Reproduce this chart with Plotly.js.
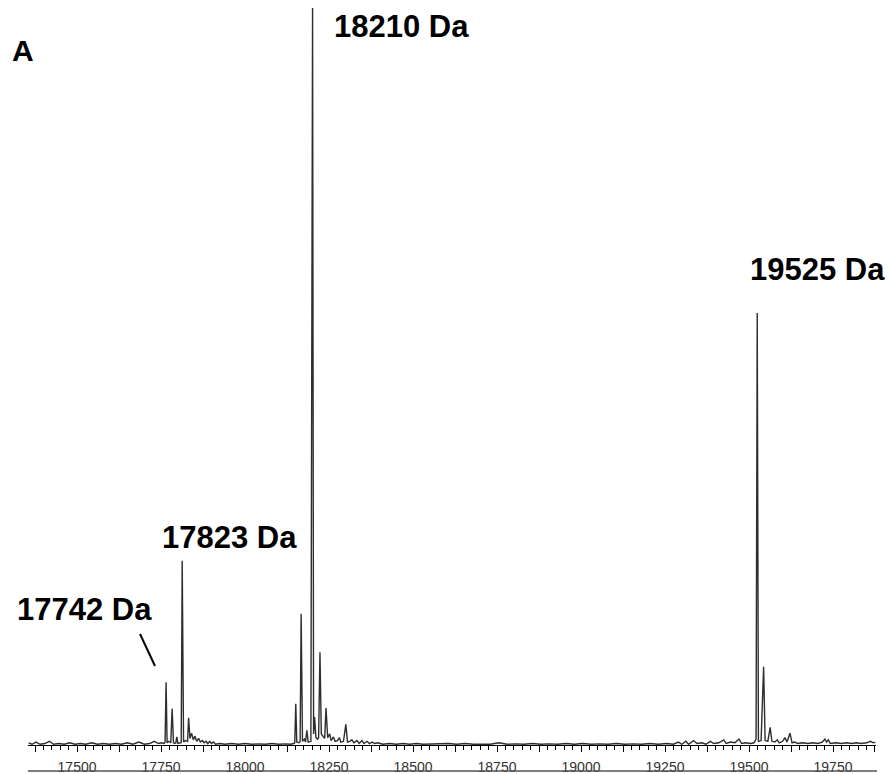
<!DOCTYPE html>
<html>
<head>
<meta charset="utf-8">
<script src="https://cdn.plot.ly/plotly-3.0.1.min.js"></script>
<style>html,body{margin:0;padding:0;background:#fff;}#chart{width:892px;height:774px;}</style>
</head>
<body>
<div id="chart"></div>
<script>
// Deconvoluted mass spectrum (mass in Da, relative intensity %)
const massDa = [
  17356,17366,17378,17390,17404,17418,17430,17446,17462,17478,17494,17510,17526,17544,17560,17578,17596,17614,17632,17650,17666,17684,17700,17716,17730,17742,17752,17759,
  17762,17765,17768,17773,17779,17783,17787,17791,17794,17797,17800,17806,17810,17813,17817,17822,17829,17832,17836,17841,17846,17851,17856,17862,17867,17873,17878,17884,17889,17895,17900,17906,17912,17925,17940,17960,17980,18000,18020,18040,18060,18080,18100,18120,18135,18145,
  18148,18151,18154,18160,18164,18167,18171,18177,18180,18184,18188,18196,18201,18204,18207,18211,18216,18219,18223,18227,18233,18237,18241,18246,18252,18256,18263,18268,18275,18281,18285,18293,18300,18305,18312,18318,18324,18333,18340,18348,18354,18363,18370,18378,18386,18395,18410,18430,
  18450,18470,18490,18510,18530,18555,18580,18605,18630,18655,18680,18705,18730,18755,18780,18805,18830,18855,18880,18905,18930,18955,18980,19005,19030,19055,19080,19105,19130,19155,19180,19205,19230,19255,19275,19290,19300,19312,19320,19335,19345,19360,19372,19385,19395,19410,19425,19432,19445,19458,19470,19478,19490,19505,19515,19521,
  19524.5,19528,19536,19543.5,19548,19556,19563,19568,19577,19584,19590,19600,19607,19613,19622,19628,19636,19645,19660,19675,19690,19705,19718,19726,19731,19736,19742,19758,19775,19790,19805,19820,19835,19850,19862,19870,19876
];
const intensity = [
  0.3,0.1,0.4,0.1,0.2,0.5,0.1,0.2,0.1,0.3,0.1,0.2,0.1,0.3,0.1,0.2,0.1,0.2,0.1,0.3,0.1,0.4,0.1,0.2,0.5,0.2,0.3,0.2,
  0.4,8.5,0.3,0.5,0.3,4.9,0.3,0.2,0.3,1.1,0.2,0.3,0.3,25.0,0.4,0.6,0.5,3.7,0.9,1.6,0.7,1.2,0.5,0.9,0.4,0.6,0.3,0.5,0.2,0.5,0.2,0.4,0.1,0.2,0.1,0.2,0.1,0.2,0.1,0.15,0.1,0.2,0.1,0.15,0.1,0.2,
  0.3,5.6,0.4,0.3,0.5,17.8,0.5,0.8,0.4,2.0,0.4,0.5,100,1.5,3.8,1.0,0.8,1.0,12.6,1.5,1.2,0.9,5.0,1.0,1.5,0.6,1.1,0.5,0.6,1.0,0.4,0.5,2.8,0.4,0.5,0.7,0.3,0.6,0.2,0.6,0.2,0.5,0.2,0.4,0.2,0.3,0.1,0.2,
  0.1,0.2,0.1,0.2,0.1,0.15,0.1,0.2,0.1,0.2,0.1,0.15,0.1,0.3,0.1,0.15,0.1,0.2,0.1,0.15,0.1,0.2,0.1,0.2,0.1,0.15,0.1,0.2,0.1,0.15,0.1,0.2,0.1,0.2,0.1,0.4,0.1,0.5,0.1,0.6,0.2,0.3,0.1,0.5,0.2,0.3,0.7,0.2,0.4,0.3,0.8,0.2,0.3,0.2,0.3,0.8,
  58.6,0.5,0.6,10.6,0.6,0.5,2.4,0.5,0.4,0.7,0.3,0.5,1.0,0.4,1.6,0.3,0.4,0.2,0.3,0.2,0.3,0.2,0.4,0.8,0.4,0.7,0.2,0.3,0.2,0.3,0.2,0.3,0.2,0.3,0.5,0.3,0.4
];
// Peak labels
const peakLabels = ["18210 Da", "19525 Da", "17823 Da", "17742 Da"];
// Axis tick labels
const majorTicks = [17375,17500,17625,17750,17875,18000,18125,18250,18375,18500,18625,18750,18875,19000,19125,19250,19375,19500,19625,19750,19875];
const tickLabels = majorTicks.map(v => (v % 250 === 0 ? String(v) : ""));

// pixel -> paper helpers for layout decorations
const L = 28, R = 876, B = 745, T = 4;
const px = x => (x - L) / (R - L);
const py = y => (B - y) / (B - T);

const trace = {
  x: massDa, y: intensity, type: "scatter", mode: "lines",
  line: {color: "#2e2e2e", width: 1.4}, hoverinfo: "x+y"
};

const annFont = {family: "Liberation Sans, Arial, sans-serif", size: 31, color: "#000"};
const ann = (text, x, y) => ({text: "<b>" + text + "</b>", xref: "paper", yref: "paper", x: px(x), y: py(y),
  xanchor: "center", yanchor: "middle", showarrow: false, font: annFont});

const layout = {
  width: 892, height: 774,
  margin: {l: L, r: 892 - R, t: T, b: 774 - B},
  paper_bgcolor: "#fff", plot_bgcolor: "#fff",
  showlegend: false,
  xaxis: {
    range: [17354, 19878], showgrid: false, zeroline: false,
    showline: true, linecolor: "#000", linewidth: 1,
    ticks: "outside", ticklen: 6, tickwidth: 1, tickcolor: "#000",
    tickmode: "array", tickvals: majorTicks, ticktext: tickLabels,
    minor: {dtick: 25, tick0: 17375, ticks: "outside", ticklen: 4, tickcolor: "#000", tickwidth: 1, showgrid: false},
    tickfont: {family: "Liberation Sans, Arial, sans-serif", size: 14, color: "#333"},
    ticklabelstandoff: 3,
    fixedrange: true
  },
  yaxis: {range: [0, 100.54], visible: false, fixedrange: true},
  annotations: [
    ann(peakLabels[0], 401, 27),
    ann(peakLabels[1], 817, 270),
    ann(peakLabels[2], 229, 538),
    ann(peakLabels[3], 84, 609),
    {text: "<b>A</b>", xref: "paper", yref: "paper", x: px(23), y: py(50), xanchor: "center", yanchor: "middle",
     showarrow: false, font: {family: "Liberation Sans, Arial, sans-serif", size: 30, color: "#000"}}
  ],
  shapes: [
    {type: "line", xref: "paper", yref: "paper", x0: px(140), y0: py(634), x1: px(155), y1: py(666),
     line: {color: "#000", width: 2}},
    {type: "line", xref: "paper", yref: "paper", x0: px(28), y0: py(771), x1: px(877), y1: py(771),
     line: {color: "#555", width: 1.5}}
  ]
};

Plotly.newPlot("chart", [trace], layout, {displayModeBar: false, staticPlot: true});
</script>
</body>
</html>
